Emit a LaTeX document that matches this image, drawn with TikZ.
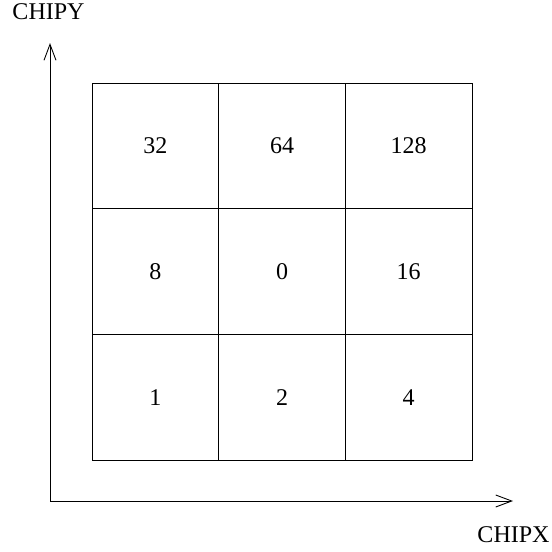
\documentclass[tikz,border=0pt]{standalone}
\usepackage{fontspec}
\setmainfont{Liberation Serif}
\usepackage{tikz}
\usetikzlibrary{arrows.meta}

\tikzset{
  chipcell/.style={draw, line width=0.9pt, minimum width=126.67pt,
    minimum height=125.67pt, inner sep=0pt, anchor=center},
  axisline/.style={line width=0.9pt,
    -{Straight Barb[length=16pt,width=12pt,line width=0.9pt]}},
  axislabel/.style={anchor=base, inner sep=0pt}
}

\begin{document}
\begin{tikzpicture}[x=1pt, y=-1pt, font=\fontsize{24}{28}\selectfont]
  \useasboundingbox (0,0) rectangle (552,552);

  % ── Axes ──────────────────────────────────────────────────────────
  \coordinate (O) at (50, 501);
  \coordinate (Ytip) at (50, 43);
  \coordinate (Xtip) at (513, 501);

  \draw[axisline] (O) -- (Ytip);
  \draw[axisline] (O) -- (Xtip);

  \node[axislabel] (chipy) at (48.5, 19)  {CHIPY};
  \node[axislabel] (chipx) at (513.5, 542) {CHIPX};

  % ── 3x3 chip neighbour grid ──────────────────────────────────────
  \foreach \row/\y/\a/\b/\c in {1/145.83/32/64/128, 2/271.5/8/0/16, 3/397.17/1/2/4} {
    \node[chipcell] (cell-\row-1) at (155.33, \y) {\a};
    \node[chipcell] (cell-\row-2) at (282,    \y) {\b};
    \node[chipcell] (cell-\row-3) at (408.67, \y) {\c};
  }
\end{tikzpicture}
\end{document}
